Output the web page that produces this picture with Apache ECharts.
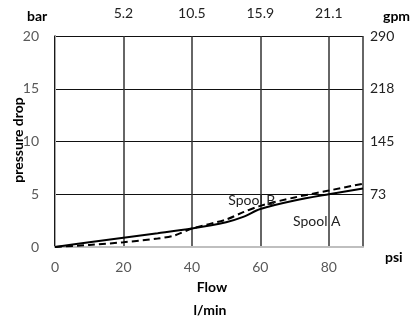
<!DOCTYPE html>
<html><head><meta charset="utf-8">
<script src="https://cdn.jsdelivr.net/npm/echarts@6/dist/echarts.min.js"></script>
<style>html,body{margin:0;padding:0;background:#fff}#c{width:414px;height:322px}</style>
</head><body><div id="c"></div>
<script>
const flowTicks = [0, 20, 40, 60, 80];
const gpmLabels = ['', '5.2', '10.5', '15.9', '21.1'];
const barTicks = [0, 5, 10, 15, 20];
const psiLabels = ['', '73', '145', '218', '290'];
const spoolAFlow = [0, 10, 20, 30, 40, 50, 55, 60, 70, 80, 90];
const spoolAValues = [0, 0.45, 0.88, 1.3, 1.75, 2.35, 2.85, 3.6, 4.4, 5.0, 5.55];
const spoolBFlow = [0, 10, 20, 30, 35, 40, 50, 55, 60, 70, 80, 90];
const spoolBValues = [0, 0.2, 0.45, 0.8, 1.1, 1.75, 2.6, 3.3, 3.9, 4.7, 5.35, 6.0];
const seriesNames = ['Spool A', 'Spool B'];

const FONT = 'Lato';
const grey = '#595959';
const chart = echarts.init(document.getElementById('c'));
const pairs = (xs, ys) => xs.map((x, i) => [x, ys[i]]);
const labelPoint = (coord, text) => ({
  symbol: 'circle', symbolSize: 1, itemStyle: { color: 'rgba(0,0,0,0)' },
  data: [{ coord: coord, value: 0 }],
  label: { show: true, position: 'inside', formatter: text, color: '#222', fontSize: 14, fontFamily: FONT }
});
chart.setOption({
  animation: false,
  textStyle: { fontFamily: FONT },
  grid: { left: 55, right: 51, top: 36, bottom: 75 },
  xAxis: [{
    type: 'value', min: 0, max: 90, interval: 20, position: 'bottom',
    axisLine: { show: true, lineStyle: { color: '#bfbfbf', width: 2 } },
    axisTick: { show: false },
    axisLabel: { color: grey, fontSize: 14, fontFamily: FONT, margin: 13,
      formatter: v => flowTicks.includes(v) ? String(v) : '' },
    splitLine: { show: true, lineStyle: { color: '#333', width: 1.5 } }
  }, {
    type: 'value', min: 0, max: 90, interval: 20, position: 'top',
    axisLine: { show: true, lineStyle: { color: '#bfbfbf', width: 1 } },
    axisTick: { show: false },
    axisLabel: { color: '#222', fontSize: 14, fontFamily: FONT, margin: 16,
      formatter: v => { const i = flowTicks.indexOf(v); return i >= 0 ? gpmLabels[i] : ''; } },
    splitLine: { show: false }
  }],
  yAxis: [{
    type: 'value', min: 0, max: 20, interval: 5, position: 'left',
    axisLine: { show: true, lineStyle: { color: '#000', width: 1.5 } },
    axisTick: { show: false },
    axisLabel: { color: grey, fontSize: 14, fontFamily: FONT, margin: 16,
      formatter: v => barTicks.includes(v) ? String(v) : '' },
    splitLine: { show: true, lineStyle: { color: '#111', width: 1.2 } }
  }, {
    type: 'value', min: 0, max: 20, interval: 5, position: 'right',
    axisLine: { show: true, lineStyle: { color: '#a6a6a6', width: 1 } },
    axisTick: { show: false },
    axisLabel: { color: '#222', fontSize: 14, fontFamily: FONT, margin: 7,
      formatter: v => { const i = barTicks.indexOf(v); return i >= 0 ? psiLabels[i] : ''; } },
    splitLine: { show: false }
  }],
  series: [{
    name: seriesNames[0], type: 'line', data: pairs(spoolAFlow, spoolAValues),
    showSymbol: false, smooth: 0.3, lineStyle: { color: '#000', width: 2 },
    markPoint: labelPoint([76.5, 2.45], seriesNames[0])
  }, {
    name: seriesNames[1], type: 'line', data: pairs(spoolBFlow, spoolBValues),
    showSymbol: false, smooth: 0.3, lineStyle: { color: '#000', width: 2, type: [7, 4] },
    markPoint: labelPoint([57.5, 4.45], seriesNames[1])
  }],
  graphic: [
    { type: 'text', left: 27, top: 9, style: { text: 'bar', font: 'bold 14px ' + FONT, fill: '#000' } },
    { type: 'text', left: 383, top: 9, style: { text: 'gpm', font: 'bold 14px ' + FONT, fill: '#000' } },
    { type: 'text', left: 385, top: 250, style: { text: 'psi', font: 'bold 14px ' + FONT, fill: '#000' } },
    { type: 'text', x: 212, y: 287, style: { text: 'Flow', font: 'bold 14px ' + FONT, fill: '#000', align: 'center', verticalAlign: 'middle' } },
    { type: 'text', x: 210, y: 310, style: { text: 'l/min', font: 'bold 14px ' + FONT, fill: '#000', align: 'center', verticalAlign: 'middle' } },
    { type: 'text', x: 18, y: 140, rotation: Math.PI / 2, style: { text: 'pressure drop', font: 'bold 14px ' + FONT, fill: '#000', align: 'center', verticalAlign: 'middle' } }
  ]
});
</script></body></html>
